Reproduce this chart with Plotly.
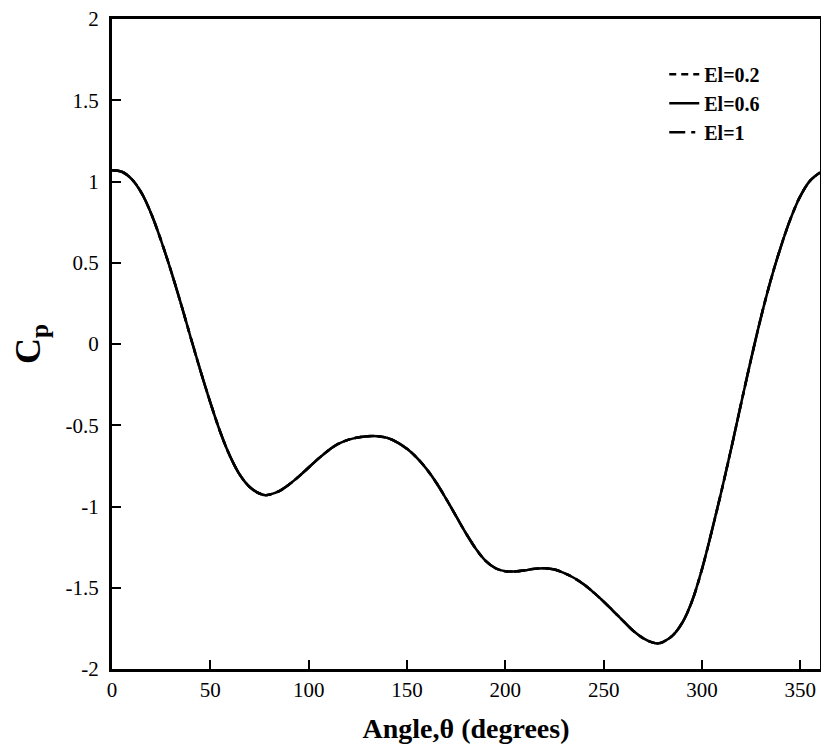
import plotly.graph_objects as go

# ---- data ----
theta = [0, 5, 10, 15, 20, 25, 30, 35, 40, 45, 50, 55, 60, 65, 70, 75, 78, 80, 85, 90,
         95, 100, 105, 110, 115, 120, 125, 130, 135, 140, 145, 150, 155, 160, 165, 170,
         175, 180, 185, 190, 195, 200, 205, 210, 215, 220, 225, 230, 235, 240, 245, 250,
         255, 260, 265, 270, 275, 278, 280, 285, 290, 295, 300, 305, 310, 315, 320, 325,
         330, 335, 340, 345, 350, 355, 360]

cp_el06 = [1.07, 1.06, 1.015, 0.93, 0.80, 0.635, 0.45, 0.25, 0.04, -0.165, -0.36, -0.54,
           -0.69, -0.805, -0.88, -0.92, -0.93, -0.927, -0.905, -0.865, -0.815, -0.76, -0.705,
           -0.655, -0.615, -0.59, -0.575, -0.567, -0.567, -0.578, -0.605, -0.645, -0.70,
           -0.77, -0.855, -0.955, -1.06, -1.165, -1.26, -1.335, -1.38, -1.398, -1.40, -1.393,
           -1.383, -1.38, -1.388, -1.41, -1.44, -1.48, -1.53, -1.585, -1.645, -1.705, -1.765,
           -1.81, -1.838, -1.842, -1.835, -1.795, -1.715, -1.58, -1.385, -1.15, -0.90,
           -0.635, -0.36, -0.09, 0.165, 0.395, 0.595, 0.77, 0.91, 1.005, 1.055]
# the three curves coincide in the reference
cp_el02 = list(cp_el06)
cp_el10 = list(cp_el06)

series_names = ["El=0.2", "El=0.6", "El=1"]

x_tickvals = [0, 50, 100, 150, 200, 250, 300, 350]
x_ticktext = ["0", "50", "100", "150", "200", "250", "300", "350"]
y_tickvals = [-2, -1.5, -1, -0.5, 0, 0.5, 1, 1.5, 2]
y_ticktext = ["-2", "-1.5", "-1", "-0.5", "0", "0.5", "1", "1.5", "2"]

FONT = "Liberation Serif"

fig = go.Figure()
fig.add_trace(go.Scatter(x=theta, y=cp_el02, mode="lines", name=series_names[0],
                         line=dict(color="black", width=2.5, dash="7px,5px", shape="spline", smoothing=1.0)))
fig.add_trace(go.Scatter(x=theta, y=cp_el06, mode="lines", name=series_names[1],
                         line=dict(color="black", width=2.5, dash="solid", shape="spline", smoothing=1.0)))
fig.add_trace(go.Scatter(x=theta, y=cp_el10, mode="lines", name=series_names[2],
                         line=dict(color="black", width=2.5, dash="16px,6px,4px,6px", shape="spline", smoothing=1.0)))

axis_common = dict(
    showline=True, linecolor="black", linewidth=3, mirror=True,
    ticks="inside", ticklen=9, tickwidth=2, tickcolor="black",
    showgrid=False, zeroline=False,
    tickfont=dict(family=FONT, size=21, color="black"),
)

fig.update_xaxes(range=[0, 360], tickvals=x_tickvals, ticktext=x_ticktext,
                 title=dict(text="Angle,θ (degrees)", standoff=18,
                            font=dict(family=FONT, size=28, color="black", weight="bold")),
                 **axis_common)
fig.update_yaxes(range=[-2, 2], tickvals=y_tickvals, ticktext=y_ticktext,
                 ticklabelstandoff=6,
                 title=dict(text="C<sub>p</sub>", standoff=14,
                            font=dict(family=FONT, size=36, color="black", weight="bold")),
                 **axis_common)

fig.update_layout(
    width=821, height=749,
    margin=dict(l=112, r=1, t=19, b=80, autoexpand=False),
    paper_bgcolor="white", plot_bgcolor="white",
    font=dict(family=FONT, color="black"),
    legend=dict(x=0.78, y=0.945, xanchor="left", yanchor="top",
                bgcolor="rgba(0,0,0,0)", borderwidth=0,
                font=dict(family=FONT, size=20, color="black", weight="bold"),
                tracegroupgap=0, itemwidth=30),
    showlegend=True,
)

fig.write_html("out.html")
